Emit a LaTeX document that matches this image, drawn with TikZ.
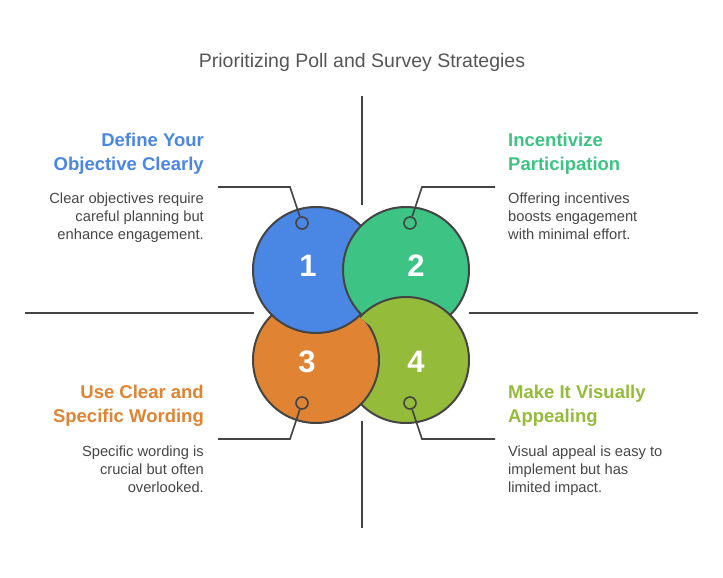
\documentclass[tikz,border=0pt]{standalone}
\usepackage{fontspec}
\setmainfont{Liberation Sans}
\definecolor{cblue}{RGB}{74,134,228}
\definecolor{cgreen}{RGB}{61,196,132}
\definecolor{corange}{RGB}{224,131,50}
\definecolor{colive}{RGB}{148,188,58}
\definecolor{cdark}{RGB}{68,68,68}
\definecolor{ctext}{RGB}{70,70,70}
\definecolor{ctitle}{RGB}{85,85,85}
\begin{document}
\begin{tikzpicture}[x=1pt,y=-1pt,
  bigc/.style={circle, draw=cdark, line width=2pt, minimum size=126pt, inner sep=0pt},
  pin/.style={circle, draw=cdark, line width=1.6pt, minimum size=12pt, inner sep=0pt},
  conn/.style={draw=cdark, line width=1.6pt},
  axisline/.style={draw=cdark, line width=1.6pt},
  num/.style={text=white, font=\fontsize{31}{31}\selectfont\bfseries, inner sep=0pt},
  headl/.style={font=\fontsize{18.5}{23.5}\selectfont\bfseries, align=right, anchor=north east, inner sep=0pt},
  headr/.style={font=\fontsize{18.5}{23.5}\selectfont\bfseries, align=left, anchor=north west, inner sep=0pt},
  bodyl/.style={font=\fontsize{14.7}{18}\selectfont, text=ctext, align=right, anchor=north east, inner sep=0pt},
  bodyr/.style={font=\fontsize{14.7}{18}\selectfont, text=ctext, align=left, anchor=north west, inner sep=0pt}]
\useasboundingbox (0,0) rectangle (723,578);

% title
\node[font=\fontsize{19.5}{22}\selectfont, text=ctitle, anchor=base, inner sep=0pt] (title) at (362,67) {Prioritizing Poll and Survey Strategies};

% axis lines
\coordinate (vt1) at (362,96);
\coordinate (vt2) at (362,205);
\coordinate (vb1) at (362,421);
\coordinate (vb2) at (362,528);
\coordinate (hl1) at (25,313);
\coordinate (hl2) at (254,313);
\coordinate (hr1) at (469,313);
\coordinate (hr2) at (698,313);
\draw[axisline] (vt1) -- (vt2);
\draw[axisline] (vb1) -- (vb2);
\draw[axisline] (hl1) -- (hl2);
\draw[axisline] (hr1) -- (hr2);

% big circles
\node[bigc, fill=colive] (c4) at (406,360) {};
\node[bigc, fill=corange] (c3) at (316,360) {};
\node[bigc, fill=cblue] (c1) at (316,270) {};
\node[bigc, fill=cgreen] (c2) at (406,270) {};
\begin{scope}
  \clip (c2.center) circle[radius=66pt];
  \path[fill=colive, draw=cdark, line width=2pt] (c4.center) circle[radius=63pt];
\end{scope}

% numbers
\node[num] (n1) at (308,266) {1};
\node[num] (n2) at (416,266) {2};
\node[num] (n3) at (307,362) {3};
\node[num] (n4) at (416,362) {4};

% pins and connectors
\node[pin, fill=cblue] (p1) at (302,223) {};
\node[pin, fill=cgreen] (p2) at (410,223) {};
\node[pin, fill=corange] (p3) at (302,403) {};
\node[pin, fill=colive] (p4) at (410,403) {};
\coordinate (k1) at (290,187);
\coordinate (e1) at (218,187);
\coordinate (k2) at (422,187);
\coordinate (e2) at (495,187);
\coordinate (k3) at (290,439);
\coordinate (e3) at (218,439);
\coordinate (k4) at (422,439);
\coordinate (e4) at (495,439);
\draw[conn] (p1) -- (k1) -- (e1);
\draw[conn] (p2) -- (k2) -- (e2);
\draw[conn] (p3) -- (k3) -- (e3);
\draw[conn] (p4) -- (k4) -- (e4);

% texts
\node[headl, text=cblue] (h1) at (204,133) {Define Your\\Objective Clearly};
\node[bodyl] (b1) at (204,193) {Clear objectives require\\careful planning but\\enhance engagement.};
\node[headr, text=cgreen] (h2) at (508,133) {Incentivize\\Participation};
\node[bodyr] (b2) at (508,193) {Offering incentives\\boosts engagement\\with minimal effort.};
\node[headl, text=corange] (h3) at (204,385) {Use Clear and\\Specific Wording};
\node[bodyl] (b3) at (204,446) {Specific wording is\\crucial but often\\overlooked.};
\node[headr, text=colive] (h4) at (508,385) {Make It Visually\\Appealing};
\node[bodyr] (b4) at (508,446) {Visual appeal is easy to\\implement but has\\limited impact.};
\end{tikzpicture}
\end{document}
